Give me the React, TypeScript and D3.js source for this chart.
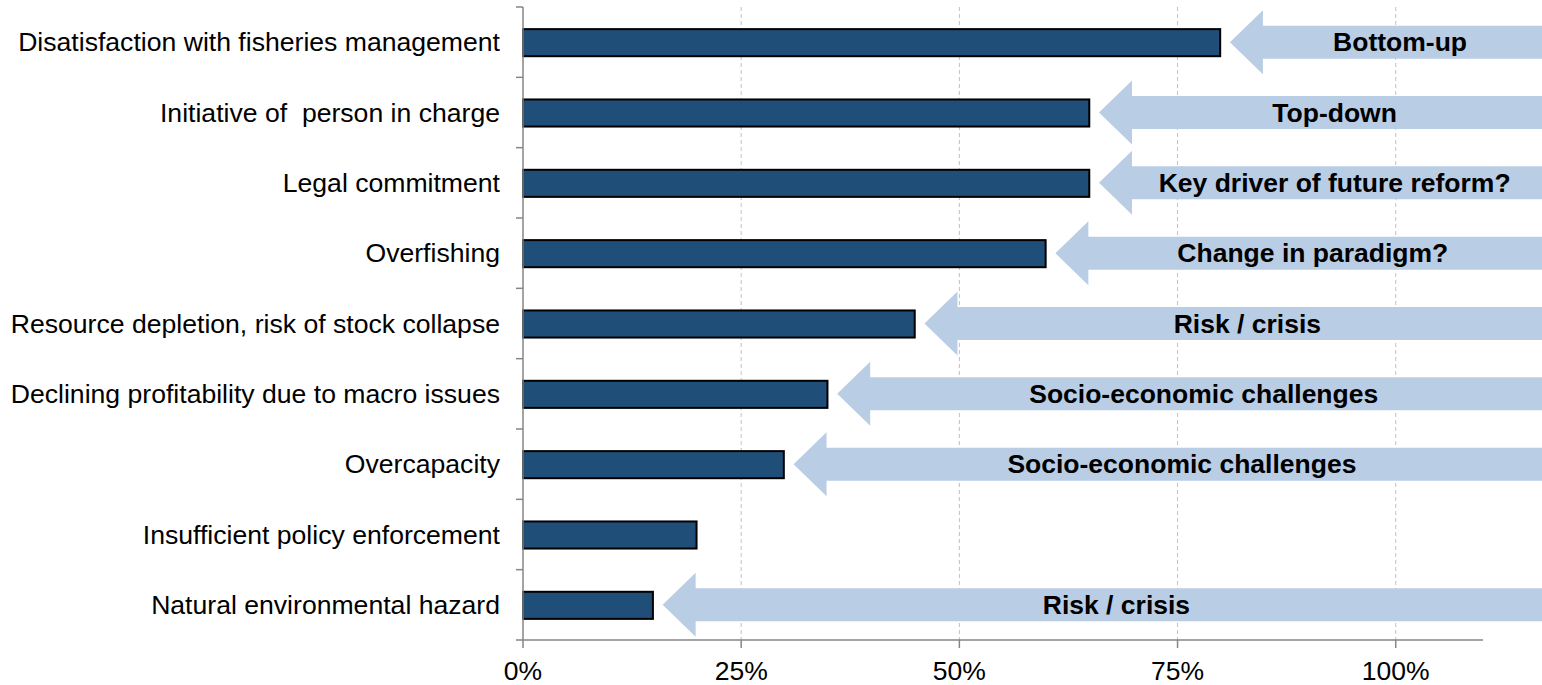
import React from "react";
import * as d3 from "d3";

const categories = [
  "Disatisfaction with fisheries management",
  "Initiative of  person in charge",
  "Legal commitment",
  "Overfishing",
  "Resource depletion, risk of stock collapse",
  "Declining profitability due to macro issues",
  "Overcapacity",
  "Insufficient policy enforcement",
  "Natural environmental hazard",
];
const values = [0.8, 0.65, 0.65, 0.6, 0.45, 0.35, 0.3, 0.2, 0.15];
const arrowLabels: (string | null)[] = [
  "Bottom-up",
  "Top-down",
  "Key driver of future reform?",
  "Change in paradigm?",
  "Risk / crisis",
  "Socio-economic challenges",
  "Socio-economic challenges",
  null,
  "Risk / crisis",
];
const xTicks = [0, 0.25, 0.5, 0.75, 1.0];
const xMax = 1.1;
const arrowEnd = 1.2;
const arrowGap = 0.01;

const W = 1542;
const H = 685;
const M = { left: 523, right: 1483, top: 7, bottom: 640 };
const FONT = "Liberation Sans, Arial, sans-serif";

export default function App() {
  const x = d3.scaleLinear().domain([0, xMax]).range([M.left, M.right]);
  const y = d3
    .scaleBand<string>()
    .domain(categories)
    .range([M.top, M.bottom])
    .paddingInner(0)
    .paddingOuter(0);
  const bw = y.bandwidth();
  const barH = bw * 0.385;
  const headHalf = 32;
  const shaftHalf = 16.5;
  const headLen = 33;

  const arrowPath = (v: number, cy: number) => {
    const tip = x(v + arrowGap);
    const end = x(arrowEnd);
    const p = d3.path();
    p.moveTo(tip, cy);
    p.lineTo(tip + headLen, cy - headHalf);
    p.lineTo(tip + headLen, cy - shaftHalf);
    p.lineTo(end, cy - shaftHalf);
    p.lineTo(end, cy + shaftHalf);
    p.lineTo(tip + headLen, cy + shaftHalf);
    p.lineTo(tip + headLen, cy + headHalf);
    p.closePath();
    return p.toString();
  };

  const bandEdges = d3.range(categories.length + 1).map((i) => M.top + i * bw);

  return (
    <svg
      width={W}
      height={H}
      style={{ position: "absolute", left: 0, top: 0, background: "#fff" }}
    >
      <rect x={0} y={0} width={W} height={H} fill="#fff" />
      {xTicks
        .filter((t) => t > 0)
        .map((t) => (
          <line
            key={"g" + t}
            x1={x(t)}
            x2={x(t)}
            y1={M.top}
            y2={M.bottom}
            stroke="#c0c0c0"
            strokeWidth={1}
            strokeDasharray="4,3"
          />
        ))}
      {categories.map((c, i) =>
        arrowLabels[i] ? (
          <path
            key={"a" + i}
            d={arrowPath(values[i], (y(c) as number) + bw / 2)}
            fill="#B9CDE5"
          />
        ) : null
      )}
      {categories.map((c, i) =>
        arrowLabels[i] ? (
          <text
            key={"at" + i}
            x={(x(values[i] + arrowGap) + x(arrowEnd)) / 2}
            y={(y(c) as number) + bw / 2}
            dy="0.35em"
            textAnchor="middle"
            fontFamily={FONT}
            fontWeight="bold"
            fontSize={26.5}
            fill="#000"
          >
            {arrowLabels[i]}
          </text>
        ) : null
      )}
      {categories.map((c, i) => (
        <rect
          key={"b" + i}
          x={x(0)}
          y={(y(c) as number) + bw / 2 - barH / 2 + 0.5}
          width={x(values[i]) - x(0) - 1}
          height={barH}
          fill="#1F4E79"
          stroke="#000"
          strokeWidth={2}
        />
      ))}
      <line x1={M.left} x2={M.left} y1={M.top} y2={M.bottom} stroke="#868686" strokeWidth={1.5} />
      {bandEdges.map((e, i) => (
        <line key={"yt" + i} x1={M.left - 7} x2={M.left} y1={e} y2={e} stroke="#868686" strokeWidth={1.5} />
      ))}
      <line x1={M.left} x2={M.right} y1={M.bottom} y2={M.bottom} stroke="#868686" strokeWidth={1.5} />
      {xTicks.map((t) => (
        <line key={"xt" + t} x1={x(t)} x2={x(t)} y1={M.bottom} y2={M.bottom + 8} stroke="#868686" strokeWidth={1.5} />
      ))}
      {xTicks.map((t) => (
        <text
          key={"xl" + t}
          x={x(t)}
          y={680}
          textAnchor="middle"
          fontFamily={FONT}
          fontSize={26.5}
          fill="#000"
        >
          {d3.format(".0%")(t)}
        </text>
      ))}
      {categories.map((c) => (
        <text
          key={"cl" + c}
          x={500}
          y={(y(c) as number) + bw / 2}
          dy="0.35em"
          textAnchor="end"
          fontFamily={FONT}
          fontSize={26.6}
          fill="#000"
          style={{ whiteSpace: "pre" }}
        >
          {c}
        </text>
      ))}
    </svg>
  );
}
